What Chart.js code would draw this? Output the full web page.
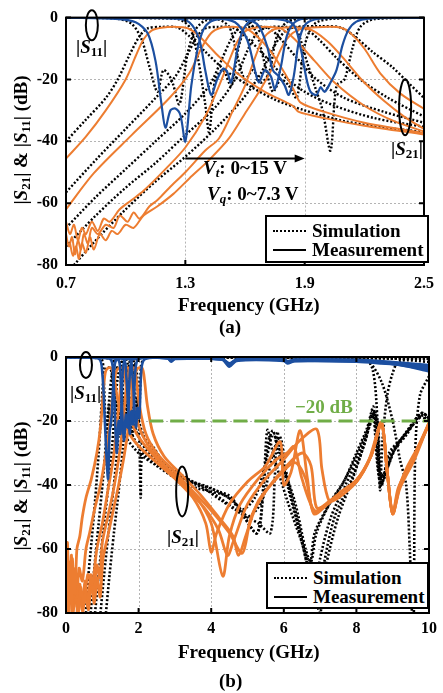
<!DOCTYPE html>
<html>
<head>
<meta charset="utf-8">
<script src="https://cdn.jsdelivr.net/npm/chart.js@4.4.1/dist/chart.umd.min.js"></script>
<style>
  body { margin: 0; width: 443px; height: 693px; position: relative; overflow: hidden; background: #fff;
         font-family: 'Liberation Serif', 'Times New Roman', serif; font-weight: bold; color: #000; }
  canvas { position: absolute; left: 0; }
  .txt { position: absolute; white-space: nowrap; font-size: 19px; line-height: 1; }
  .txt sub { font-size: 13px; vertical-align: -3px; }
  .ytitle { transform: translate(-50%, -50%) rotate(-90deg); }
  .legend { position: absolute; border: 2px solid #000; background: #fff; box-sizing: border-box; }
  .legend .row { position: absolute; left: 6px; height: 19px; display: flex; align-items: center; font-size: 19px; }
  .legend .swatch { width: 33px; margin-right: 6px; border-top: 2px solid #000; }
  .legend .dot { border-top: 2px dotted #000; }
</style>
</head>
<body>
<canvas id="chartA" width="443" height="335" style="top:0"></canvas>
<canvas id="chartB" width="443" height="355" style="top:338px"></canvas>

<!-- (a) labels -->
<div class="txt ytitle" style="left:21px;top:140px">|<i>S</i><sub>21</sub>| &amp; |<i>S</i><sub>11</sub>| (dB)</div>
<div class="txt" style="left:76px;top:37px">|<i>S</i><sub>11</sub>|</div>
<div class="txt" style="left:391px;top:139px">|<i>S</i><sub>21</sub>|</div>
<div class="txt" style="left:203px;top:158px"><i>V</i><sub><i>t</i></sub>: 0~15 V</div>
<div class="txt" style="left:207px;top:184px"><i>V</i><sub><i>q</i></sub>: 0~7.3 V</div>
<div class="legend" style="left:265px;top:215px;width:164px;height:48px">
  <div class="row" style="top:4px"><span class="swatch dot"></span>Simulation</div>
  <div class="row" style="top:23px"><span class="swatch"></span>Measurement</div>
</div>
<div class="txt" style="left:178px;top:295px">Frequency (GHz)</div>
<div class="txt" style="left:219px;top:317px">(a)</div>

<!-- (b) labels -->
<div class="txt ytitle" style="left:21px;top:486px">|<i>S</i><sub>21</sub>| &amp; |<i>S</i><sub>11</sub>| (dB)</div>
<div class="txt" style="left:70px;top:383px">|<i>S</i><sub>11</sub>|</div>
<div class="txt" style="left:167px;top:527px">|<i>S</i><sub>21</sub>|</div>
<div class="txt" style="left:295px;top:397px;color:#70AD47">&minus;20 dB</div>
<div class="legend" style="left:266px;top:562px;width:163px;height:47px">
  <div class="row" style="top:4px"><span class="swatch dot"></span>Simulation</div>
  <div class="row" style="top:23px"><span class="swatch"></span>Measurement</div>
</div>
<div class="txt" style="left:178px;top:642px">Frequency (GHz)</div>
<div class="txt" style="left:219px;top:671px">(b)</div>

<script>
// ---------- (a) narrow band, 0.7 - 2.5 GHz ----------
const freqTicksA = [0.7, 1.3, 1.9, 2.5];
const dbTicks = [0, -20, -40, -60, -80];

// measured |S21|, five bias states
const measS21A1 = [[0.70,-45.6],[0.80,-38.5],[0.90,-30],[1.00,-20],[1.05,-12.5],[1.09,-7],[1.13,-4.2],[1.18,-3.3],[1.25,-3.0],[1.31,-3.4],[1.37,-6],[1.46,-12],[1.56,-18],[1.70,-24],[1.84,-28.5],[1.87,-30.5],[2.00,-32.5],[2.20,-35],[2.50,-37.8]];
const measS21A2 = [[0.70,-62],[0.84,-50.3],[1.03,-38],[1.22,-26],[1.32,-18],[1.38,-10],[1.43,-5],[1.48,-3.3],[1.55,-3.0],[1.60,-3.4],[1.66,-6],[1.73,-11],[1.80,-18],[1.85,-24],[1.88,-27.5],[2.00,-30.5],[2.20,-34],[2.50,-37.3]];
const measS21A3 = [[0.70,-66],[0.72,-70],[0.74,-67],[0.76,-72],[0.78,-68],[0.80,-70],[0.83,-66],[0.86,-69],[0.89,-65],[0.92,-66],[0.97,-62],[1.03,-59],[1.09,-56],[1.20,-49],[1.30,-42],[1.40,-32],[1.47,-22],[1.52,-14],[1.56,-8],[1.60,-4.5],[1.65,-3.3],[1.72,-3.0],[1.78,-3.5],[1.85,-7],[1.95,-14],[2.05,-21],[2.20,-28.5],[2.35,-33.5],[2.50,-36.8]];
const measS21A4 = [[0.70,-70],[0.715,-74],[0.73,-71],[0.745,-76.5],[0.76,-72],[0.775,-75],[0.79,-70],[0.81,-73],[0.83,-68],[0.86,-70],[0.90,-67],[0.94,-68],[0.97,-64],[1.01,-66],[1.04,-63],[1.07,-65],[1.12,-61],[1.16,-59],[1.22,-55],[1.30,-50],[1.40,-43],[1.47,-39],[1.54,-30],[1.60,-22],[1.65,-13],[1.69,-7],[1.74,-4],[1.80,-3.2],[1.88,-3.3],[1.95,-4.5],[2.02,-8],[2.09,-12.8],[2.20,-21],[2.30,-27],[2.40,-32],[2.50,-36]];
const measS21A5 = [[0.72,-73],[0.735,-77],[0.75,-74],[0.765,-78],[0.78,-73],[0.80,-76],[0.82,-71],[0.84,-75],[0.87,-70],[0.90,-72],[0.93,-69],[0.96,-70],[1.00,-67],[1.04,-68],[1.09,-64],[1.16,-61],[1.24,-57],[1.32,-52],[1.42,-46],[1.52,-39],[1.60,-31],[1.68,-23],[1.74,-16],[1.79,-9],[1.84,-5],[1.90,-3.4],[2.00,-3.0],[2.08,-3.2],[2.13,-5],[2.20,-10],[2.28,-18],[2.38,-24.5],[2.50,-29.5]];

// simulated |S21|
const simS21A1 = [[0.70,-40],[0.80,-33],[0.90,-26],[0.96,-20],[1.02,-12],[1.07,-6],[1.11,-3.5],[1.18,-3.0],[1.26,-3.2],[1.32,-6],[1.40,-11],[1.50,-17],[1.62,-22],[1.75,-26.5],[1.90,-30],[2.10,-33.5],[2.30,-35.5],[2.50,-37]];
const simS21A2 = [[0.70,-56.5],[0.85,-46],[1.00,-36],[1.15,-26],[1.25,-19],[1.31,-12],[1.36,-6],[1.40,-3.5],[1.46,-3.0],[1.54,-3.3],[1.60,-6],[1.68,-11],[1.78,-18],[1.90,-24],[2.05,-28.5],[2.25,-32.5],[2.50,-35.3]];
const simS21A3 = [[0.70,-68],[0.85,-58],[1.00,-49],[1.15,-40],[1.30,-31],[1.42,-22],[1.48,-14],[1.53,-7],[1.57,-3.6],[1.64,-3.0],[1.72,-3.4],[1.78,-7],[1.86,-13],[1.96,-20],[2.10,-26],[2.30,-30.5],[2.50,-34]];
const simS21A4 = [[0.70,-74],[0.85,-64],[1.00,-55],[1.15,-47],[1.30,-38],[1.45,-29],[1.55,-20],[1.61,-11],[1.66,-5],[1.71,-3.2],[1.80,-3.0],[1.90,-3.5],[1.97,-7],[2.06,-13],[2.18,-20],[2.32,-26],[2.50,-32]];
const simS21A5 = [[0.74,-80],[0.85,-72],[1.00,-62],[1.15,-53],[1.30,-45],[1.45,-36],[1.58,-27],[1.68,-18],[1.74,-10],[1.80,-4.5],[1.86,-3.0],[1.98,-2.8],[2.08,-3.2],[2.15,-6],[2.24,-11],[2.34,-16],[2.42,-21],[2.50,-26]];

// simulated |S11|
const simS11A1 = [[0.70,0],[0.95,-0.3],[1.03,-2],[1.08,-7],[1.12,-16],[1.16,-24],[1.19,-17],[1.23,-20],[1.27,-28],[1.31,-12],[1.35,-4],[1.40,-1],[1.50,-0.2],[2.50,0]];
const simS11A2 = [[0.70,0],[1.25,-0.3],[1.32,-3],[1.36,-12],[1.40,-28],[1.42,-37],[1.45,-20],[1.49,-17],[1.53,-22],[1.57,-9],[1.61,-2.5],[1.68,-0.5],[2.50,0]];
const simS11A3 = [[0.70,0],[1.45,-0.4],[1.52,-3],[1.56,-12],[1.60,-20],[1.64,-17],[1.68,-21],[1.72,-18],[1.76,-6],[1.81,-1.5],[1.90,-0.3],[2.50,0]];
const simS11A4 = [[0.70,0],[1.58,-0.3],[1.65,-4],[1.70,-15],[1.74,-24],[1.78,-20],[1.82,-22],[1.86,-26],[1.90,-9],[1.95,-2],[2.05,-0.3],[2.50,0]];
const simS11A5 = [[0.70,0],[1.80,-0.3],[1.86,-4],[1.91,-14],[1.95,-22],[1.99,-30],[2.03,-43],[2.06,-22],[2.10,-20],[2.14,-10],[2.18,-3],[2.25,-0.5],[2.50,0]];

// measured |S11|
const measS11A1 = [[0.70,0],[0.95,-0.4],[1.05,-1.5],[1.11,-5],[1.15,-14],[1.18,-28],[1.20,-35.6],[1.225,-30],[1.25,-29.4],[1.275,-31.5],[1.30,-40],[1.33,-22],[1.36,-10.6],[1.39,-4],[1.43,-1.2],[1.50,-0.3],[2.50,0]];
const measS11A2 = [[0.70,0],[1.25,-0.3],[1.32,-1.5],[1.37,-7],[1.40,-17],[1.43,-25],[1.46,-20],[1.49,-16.5],[1.51,-17.5],[1.53,-21],[1.56,-11],[1.59,-4],[1.63,-1],[1.72,-0.2],[2.50,0]];
const measS11A3 = [[0.70,0],[1.45,-0.3],[1.55,-1.5],[1.61,-7],[1.65,-17],[1.67,-21],[1.70,-17],[1.73,-19],[1.75,-23],[1.78,-16],[1.81,-6],[1.85,-1.5],[1.92,-0.2],[2.50,0]];
const measS11A4 = [[0.70,0],[1.55,-0.3],[1.66,-2],[1.71,-9],[1.74,-17],[1.77,-19],[1.80,-22],[1.82,-25],[1.845,-19],[1.87,-8],[1.90,-2.5],[1.95,-0.6],[2.05,0],[2.50,0]];
const measS11A5 = [[0.70,0],[1.72,-0.3],[1.84,-2],[1.88,-10],[1.91,-20],[1.93,-24],[1.96,-25],[1.98,-22.5],[2.00,-24],[2.03,-21],[2.06,-17],[2.09,-9],[2.12,-4],[2.16,-1.3],[2.22,-0.3],[2.50,0]];

// ---------- (b) wide band, 0 - 10 GHz ----------
const freqTicksB = [0, 2, 4, 6, 8, 10];
const refLevelB = [[2.3,-20],[10,-20]];

const measS21B1 = [[0,-72],[0.04,-58],[0.08,-76],[0.12,-64],[0.16,-80],[0.2,-66],[0.25,-74],[0.3,-60],[0.38,-56],[0.45,-50],[0.55,-44],[0.7,-38],[0.85,-30],[0.95,-22],[1.02,-12],[1.08,-5],[1.15,-3.5],[1.25,-3.5],[1.32,-6],[1.42,-13],[1.6,-20],[1.8,-25],[2.1,-29],[2.5,-33],[3.0,-38],[3.5,-44],[3.85,-52],[4.0,-61],[4.15,-55],[4.5,-46],[5.0,-39],[5.5,-34],[5.9,-26.5],[6.0,-40],[6.2,-36],[6.45,-23],[6.65,-38],[6.83,-49],[7.2,-46],[7.6,-42],[8.0,-38.5],[8.35,-32],[8.69,-20.5],[8.85,-36],[9.0,-49],[9.15,-41],[9.5,-33],[10,-21]];
const measS21B2 = [[0,-78],[0.03,-64],[0.07,-80],[0.11,-70],[0.15,-62],[0.19,-79],[0.24,-68],[0.3,-75],[0.36,-66],[0.45,-70],[0.55,-60],[0.65,-55],[0.8,-47],[0.95,-40],[1.1,-30],[1.22,-20],[1.3,-11],[1.37,-5],[1.45,-3.5],[1.57,-3.5],[1.63,-7],[1.72,-15],[1.9,-23],[2.2,-28],[2.6,-33],[3.1,-38],[3.6,-44],[4.0,-52],[4.32,-68.5],[4.5,-56],[4.8,-46],[5.3,-38],[5.8,-32],[6.09,-30],[6.28,-28],[6.5,-38],[6.85,-48],[7.2,-45.5],[7.6,-42],[8.0,-39],[8.4,-31],[8.69,-20.5],[8.85,-36],[9.0,-49],[9.2,-40],[9.37,-35],[9.7,-28],[10,-20.6]];
const measS21B3 = [[0,-74],[0.05,-80],[0.1,-68],[0.14,-77],[0.18,-63],[0.22,-78],[0.28,-70],[0.34,-80],[0.4,-72],[0.5,-77],[0.6,-68],[0.72,-71],[0.85,-60],[1.0,-52],[1.15,-42],[1.3,-32],[1.4,-22],[1.48,-12],[1.55,-5],[1.62,-3.5],[1.72,-3.5],[1.78,-7],[1.86,-15],[2.05,-23],[2.35,-29],[2.8,-35],[3.3,-41],[3.8,-47],[4.2,-54],[4.45,-62],[4.6,-58],[5.0,-46],[5.5,-38],[6.0,-32],[6.45,-26],[6.91,-22.6],[7.05,-35],[7.25,-45],[7.5,-44],[8.0,-39],[8.4,-31],[8.69,-21],[8.85,-36],[9.0,-48.5],[9.2,-40],[9.6,-31],[10,-21]];
const measS21B4 = [[0.2,-80],[0.26,-72],[0.32,-80],[0.38,-71],[0.45,-79],[0.52,-70],[0.6,-78],[0.68,-68],[0.76,-74],[0.85,-65],[0.93,-69],[1.0,-58],[1.15,-50],[1.3,-42],[1.45,-32],[1.55,-23],[1.63,-13],[1.7,-6],[1.77,-3.5],[1.88,-3.5],[1.94,-7],[2.02,-15],[2.2,-24],[2.5,-30],[3.0,-36],[3.5,-42],[4.0,-48],[4.5,-55],[4.86,-61.3],[5.1,-50],[5.5,-42],[6.0,-35],[6.5,-30],[6.75,-34],[6.9,-47],[7.2,-46],[7.6,-42],[8.0,-39],[8.4,-31],[8.69,-20.5],[8.85,-36],[9.0,-49],[9.2,-41],[9.6,-32],[10,-20.5]];
const measS21B5 = [[0.3,-80],[0.38,-74],[0.46,-80],[0.54,-72],[0.62,-79],[0.7,-70],[0.78,-77],[0.86,-69],[0.94,-75],[1.02,-63],[1.15,-56],[1.3,-48],[1.45,-40],[1.6,-31],[1.72,-22],[1.82,-12],[1.9,-5.5],[1.98,-3.5],[2.1,-3.5],[2.16,-7],[2.24,-15],[2.4,-24],[2.7,-31],[3.2,-37],[3.7,-43],[4.2,-50],[4.6,-56],[4.75,-62],[4.95,-56],[5.3,-45],[5.8,-38],[6.3,-33],[6.6,-38],[6.83,-48.5],[7.2,-46],[7.6,-42],[8.0,-38.5],[8.4,-31],[8.69,-21],[8.85,-36],[9.0,-49],[9.2,-40],[9.6,-31],[10,-20.7]];

const simS21B1 = [[0.55,-80],[0.62,-68],[0.7,-58],[0.8,-45],[0.9,-30],[0.98,-15],[1.04,-6],[1.1,-3.5],[1.22,-3.5],[1.3,-8],[1.4,-16],[1.6,-24],[2.0,-30],[2.5,-34],[3.09,-38.4],[3.6,-41],[4.0,-42],[4.45,-43.7],[4.8,-48],[5.27,-55],[5.45,-40],[5.55,-28],[5.7,-23],[5.85,-30],[6.3,-45],[6.6,-60],[6.75,-64],[6.9,-55],[7.3,-45],[7.65,-39],[8.0,-30],[8.3,-22],[8.47,-15.6],[8.6,-35],[8.7,-40],[8.9,-30],[9.2,-26],[9.5,-22],[9.8,-17.5],[10,-19]];
const simS21B2 = [[0.68,-80],[0.78,-66],[0.9,-52],[1.02,-38],[1.12,-24],[1.2,-12],[1.27,-5],[1.33,-3.5],[1.47,-3.5],[1.54,-8],[1.65,-17],[1.85,-25],[2.2,-31],[2.7,-35],[3.2,-38],[3.7,-40],[4.2,-42],[4.54,-43.7],[4.9,-50],[5.27,-55],[5.45,-38],[5.55,-22.8],[5.7,-30],[6.1,-45],[6.5,-58],[6.72,-64],[6.85,-55],[7.2,-47],[7.6,-40],[8.0,-31],[8.3,-23],[8.45,-17],[8.58,-34],[8.68,-40],[8.9,-31],[9.3,-25],[9.7,-19],[10,-19.5]];
const simS21B3 = [[0.8,-80],[0.9,-68],[1.02,-55],[1.15,-42],[1.27,-28],[1.36,-14],[1.43,-6],[1.5,-3.5],[1.63,-3.5],[1.7,-8],[1.8,-17],[2.0,-25],[2.35,-31],[2.9,-36],[3.5,-39],[4.0,-41],[4.6,-45],[5.0,-50],[5.3,-52],[5.63,-55],[5.75,-38],[5.82,-23.4],[5.95,-32],[6.3,-48],[6.6,-62],[6.85,-74],[7.0,-63],[7.3,-50],[7.7,-40],[8.1,-30],[8.35,-22],[8.5,-18],[8.62,-35],[8.72,-39],[9.0,-30],[9.4,-24],[9.75,-18],[10,-20]];
const simS21B4 = [[0.95,-80],[1.05,-68],[1.17,-55],[1.3,-42],[1.42,-28],[1.51,-15],[1.58,-6],[1.65,-3.5],[1.78,-3.5],[1.85,-8],[1.95,-17],[2.15,-25],[2.5,-31],[3.0,-36],[3.6,-40],[4.1,-43],[4.6,-47],[5.0,-50],[5.4,-45],[5.7,-30],[5.9,-25],[6.05,-35],[6.4,-52],[6.7,-68],[6.95,-78],[7.1,-65],[7.4,-50],[7.8,-40],[8.2,-28],[8.4,-20],[8.52,-17],[8.64,-36],[8.75,-38],[9.0,-30],[9.4,-23],[9.8,-17.5],[10,-19]];
const simS21B5 = [[1.1,-80],[1.2,-68],[1.32,-55],[1.45,-42],[1.57,-28],[1.66,-15],[1.73,-6],[1.8,-3.5],[1.93,-3.5],[1.98,-12],[2.03,-30],[2.06,-44],[2.1,-30],[2.3,-27],[2.7,-33],[3.2,-37],[3.8,-41],[4.3,-45],[4.8,-48],[5.2,-44],[5.5,-33],[5.7,-24],[5.85,-28],[6.1,-40],[6.5,-58],[6.8,-72],[7.0,-80],[7.15,-66],[7.5,-50],[7.9,-38],[8.25,-26],[8.45,-18],[8.58,-20],[8.68,-37],[8.8,-36],[9.1,-28],[9.5,-22],[9.85,-18],[10,-19]];

const simS11B1 = [[0,0],[0.95,-0.5],[1.03,-6],[1.08,-18],[1.13,-26],[1.18,-15],[1.23,-22],[1.28,-8],[1.33,-1],[1.5,0],[8.0,-0.5],[8.35,-1.5],[8.7,-8],[9.0,-20],[9.2,-32],[9.37,-40],[9.47,-60],[9.54,-82],[9.58,-82],[9.62,-30],[9.75,-12],[10,-6]];
const simS11B2 = [[0,0],[1.25,-0.5],[1.32,-8],[1.37,-22],[1.42,-14],[1.47,-24],[1.52,-6],[1.58,-1],[1.8,0],[8.2,-0.4],[8.45,-4],[8.58,-20],[8.65,-41.6],[8.72,-26],[8.85,-12],[9.0,-5],[9.18,-1.3],[10,-1.5]];
const simS11B3 = [[0,0],[1.45,-0.5],[1.52,-8],[1.57,-20],[1.62,-13],[1.67,-22],[1.72,-5],[1.78,-0.8],[2.0,0],[10,-0.5]];
const simS11B4 = [[0,0],[1.62,-0.5],[1.68,-8],[1.73,-21],[1.78,-14],[1.83,-25],[1.88,-6],[1.94,-1],[2.1,0],[10,-0.5]];
const simS11B5 = [[0,0],[1.8,-0.5],[1.86,-7],[1.91,-19],[1.96,-12],[2.01,-20],[2.06,-5],[2.12,-0.8],[2.3,0],[10,-0.5]];

const measS11B1 = [[0,0],[0.9,-0.5],[1.0,-5],[1.07,-20],[1.12,-32],[1.16,-38],[1.2,-24],[1.26,-18],[1.32,-5],[1.38,-1],[1.6,-0.2],[2.8,-0.4],[2.9,-1.5],[3.0,-0.6],[4.3,-0.8],[4.5,-3],[4.7,-1.2],[6.0,-1.2],[6.1,-2],[6.3,-1.3],[8.0,-1.5],[8.7,-2],[9.2,-2.5],[10,-4.5]];
const measS11B2 = [[0,0],[1.2,-0.5],[1.3,-6],[1.36,-22],[1.4,-30],[1.45,-20],[1.5,-24],[1.55,-8],[1.62,-1],[1.9,-0.2],[2.8,-0.4],[2.9,-1.2],[3.0,-0.5],[4.3,-0.8],[4.5,-2.6],[4.7,-1],[6.0,-1],[6.1,-1.8],[6.3,-1.2],[8.0,-1.3],[9.0,-2],[10,-3.5]];
const measS11B3 = [[0,0],[1.4,-0.5],[1.5,-6],[1.56,-20],[1.6,-26],[1.65,-18],[1.7,-22],[1.75,-7],[1.82,-1],[2.1,-0.2],[2.8,-0.4],[2.9,-1.2],[3.0,-0.5],[4.3,-0.7],[4.5,-2.4],[4.7,-0.9],[6.0,-0.9],[6.1,-1.6],[6.3,-1],[8.0,-1.2],[9.0,-2.2],[10,-4]];
const measS11B4 = [[0,0],[1.55,-0.5],[1.66,-6],[1.72,-18],[1.76,-24],[1.8,-17],[1.85,-21],[1.9,-6],[1.97,-1],[2.2,-0.2],[2.8,-0.3],[2.9,-1],[3.0,-0.4],[4.3,-0.6],[4.5,-2.2],[4.7,-0.8],[6.0,-0.8],[6.1,-1.4],[6.3,-0.9],[8.0,-1],[9.0,-1.8],[10,-3]];
const measS11B5 = [[0,0],[1.72,-0.5],[1.83,-6],[1.89,-17],[1.93,-22],[1.97,-16],[2.02,-19],[2.07,-5],[2.14,-1],[2.4,-0.2],[2.8,-0.3],[2.9,-1],[3.0,-0.4],[4.3,-0.6],[4.5,-2],[4.7,-0.8],[6.0,-0.7],[6.1,-1.3],[6.3,-0.8],[8.0,-0.9],[9.0,-1.6],[10,-2.5]];

const ORANGE = '#ED7D31';
const BLUE = '#1C4FA0';
const GREEN = '#70AD47';

function line(points, color, width, dash, order) {
  return {
    data: points.map(p => ({ x: p[0], y: p[1] })),
    borderColor: color,
    borderWidth: width,
    borderDash: dash || [],
    pointRadius: 0,
    tension: 0.3,
    fill: false,
    order: order
  };
}

const DOTS = [2, 2];

// dotted grid, black frame and inward ticks
const framePlugin = {
  id: 'frame',
  beforeDatasetsDraw(chart) {
    const { ctx, chartArea: a, scales: { x, y } } = chart;
    ctx.save();
    ctx.strokeStyle = '#b4b4b4';
    ctx.lineWidth = 1;
    ctx.setLineDash([2, 2]);
    ctx.beginPath();
    x.ticks.forEach(t => {
      const px = Math.round(x.getPixelForValue(t.value)) + 0.5;
      if (px > a.left + 2 && px < a.right - 2) { ctx.moveTo(px, a.top); ctx.lineTo(px, a.bottom); }
    });
    y.ticks.forEach(t => {
      const py = Math.round(y.getPixelForValue(t.value)) + 0.5;
      if (py > a.top + 2 && py < a.bottom - 2) { ctx.moveTo(a.left, py); ctx.lineTo(a.right, py); }
    });
    ctx.stroke();
    ctx.restore();
  },
  afterDatasetsDraw(chart) {
    const { ctx, chartArea: a, scales: { x, y } } = chart;
    ctx.save();
    ctx.strokeStyle = '#000';
    ctx.lineWidth = 2;
    ctx.strokeRect(a.left, a.top, a.right - a.left, a.bottom - a.top);
    ctx.beginPath();
    x.ticks.forEach(t => {
      const px = x.getPixelForValue(t.value);
      ctx.moveTo(px, a.bottom); ctx.lineTo(px, a.bottom - 5);
      ctx.moveTo(px, a.top); ctx.lineTo(px, a.top + 5);
    });
    y.ticks.forEach(t => {
      const py = y.getPixelForValue(t.value);
      ctx.moveTo(a.left, py); ctx.lineTo(a.left + 5, py);
      ctx.moveTo(a.right, py); ctx.lineTo(a.right - 5, py);
    });
    ctx.stroke();
    ctx.restore();
  }
};

// ellipses around the curve groups, plus the tuning arrow
function marksPlugin(ellipses, arrow) {
  return {
    id: 'marks',
    afterDraw(chart) {
      const { ctx, scales: { x, y } } = chart;
      ctx.save();
      ctx.strokeStyle = '#000';
      ctx.fillStyle = '#000';
      ctx.lineWidth = 2;
      ellipses.forEach(e => {
        ctx.beginPath();
        ctx.ellipse(x.getPixelForValue(e[0]), y.getPixelForValue(e[1]), e[2], e[3], 0, 0, Math.PI * 2);
        ctx.stroke();
      });
      if (arrow) {
        const x0 = x.getPixelForValue(arrow[0]), x1 = x.getPixelForValue(arrow[1]);
        const py = y.getPixelForValue(arrow[2]);
        ctx.beginPath();
        ctx.moveTo(x0, py); ctx.lineTo(x1 - 6, py);
        ctx.stroke();
        ctx.beginPath();
        ctx.moveTo(x1, py); ctx.lineTo(x1 - 10, py - 4); ctx.lineTo(x1 - 10, py + 4);
        ctx.closePath();
        ctx.fill();
      }
      ctx.restore();
    }
  };
}

const tickFont = { family: "'Liberation Serif', serif", size: 16, weight: 'bold' };

function axes(xMin, xMax, xTicks, xFmt, canvasH, bottomPx, tickPad) {
  return {
    x: {
      type: 'linear', min: xMin, max: xMax,
      grid: { display: false, drawTicks: false }, border: { display: false },
      afterBuildTicks: s => { s.ticks = xTicks.map(v => ({ value: v })); },
      afterFit: s => { s.height = canvasH - bottomPx; },
      ticks: { font: tickFont, color: '#000', padding: tickPad, maxRotation: 0, autoSkip: false, callback: xFmt }
    },
    y: {
      type: 'linear', min: -80, max: 0,
      grid: { display: false, drawTicks: false }, border: { display: false },
      afterBuildTicks: s => { s.ticks = dbTicks.map(v => ({ value: v })); },
      afterFit: s => { s.width = 66; },
      ticks: { font: tickFont, color: '#000', padding: 8, callback: v => String(v) }
    }
  };
}

new Chart(document.getElementById('chartA').getContext('2d'), {
  type: 'line',
  data: {
    datasets: [
      line(measS11A1, BLUE, 2.2, null, 0), line(measS11A2, BLUE, 2.2, null, 0), line(measS11A3, BLUE, 2.2, null, 0),
      line(measS11A4, BLUE, 2.2, null, 0), line(measS11A5, BLUE, 2.2, null, 0),
      line(measS21A1, ORANGE, 2, null, 1), line(measS21A2, ORANGE, 2, null, 1), line(measS21A3, ORANGE, 2, null, 1),
      line(measS21A4, ORANGE, 2, null, 1), line(measS21A5, ORANGE, 2, null, 1),
      line(simS21A1, '#000', 2.4, DOTS, 2), line(simS21A2, '#000', 2.4, DOTS, 2), line(simS21A3, '#000', 2.4, DOTS, 2),
      line(simS21A4, '#000', 2.4, DOTS, 2), line(simS21A5, '#000', 2.4, DOTS, 2),
      line(simS11A1, '#000', 2.4, DOTS, 2), line(simS11A2, '#000', 2.4, DOTS, 2), line(simS11A3, '#000', 2.4, DOTS, 2),
      line(simS11A4, '#000', 2.4, DOTS, 2), line(simS11A5, '#000', 2.4, DOTS, 2)
    ]
  },
  options: {
    responsive: false, animation: false,
    layout: { padding: { left: 0, top: 9, right: 11, bottom: 0 } },
    plugins: { legend: { display: false }, tooltip: { enabled: false } },
    scales: axes(0.7, 2.5, freqTicksA, v => v.toFixed(1), 335, 265, 9)
  },
  plugins: [framePlugin, marksPlugin([[0.83, -2.5, 6, 15], [2.405, -29, 6, 28]], [1.3, 1.9, -45.6])]
});

new Chart(document.getElementById('chartB').getContext('2d'), {
  type: 'line',
  data: {
    datasets: [
      line(refLevelB, GREEN, 3, [14, 7], -1),
      line(measS11B1, BLUE, 2.6, null, 0), line(measS11B2, BLUE, 2.6, null, 0), line(measS11B3, BLUE, 2.6, null, 0),
      line(measS11B4, BLUE, 2.6, null, 0), line(measS11B5, BLUE, 2.6, null, 0),
      line(measS21B1, ORANGE, 2.8, null, 1), line(measS21B2, ORANGE, 2.8, null, 1), line(measS21B3, ORANGE, 2.8, null, 1),
      line(measS21B4, ORANGE, 2.8, null, 1), line(measS21B5, ORANGE, 2.8, null, 1),
      line(simS21B1, '#000', 2.6, DOTS, 2), line(simS21B2, '#000', 2.6, DOTS, 2), line(simS21B3, '#000', 2.6, DOTS, 2),
      line(simS21B4, '#000', 2.6, DOTS, 2), line(simS21B5, '#000', 2.6, DOTS, 2),
      line(simS11B1, '#000', 2.6, DOTS, 2), line(simS11B2, '#000', 2.6, DOTS, 2), line(simS11B3, '#000', 2.6, DOTS, 2),
      line(simS11B4, '#000', 2.6, DOTS, 2), line(simS11B5, '#000', 2.6, DOTS, 2)
    ]
  },
  options: {
    responsive: false, animation: false,
    layout: { padding: { left: 0, top: 19, right: 10, bottom: 0 } },
    plugins: { legend: { display: false }, tooltip: { enabled: false } },
    scales: axes(0, 10, freqTicksB, v => String(v), 355, 275, 6)
  },
  plugins: [framePlugin, marksPlugin([[0.55, -2.5, 6, 13], [3.2, -42, 6, 25]], null)]
});
</script>
</body>
</html>
